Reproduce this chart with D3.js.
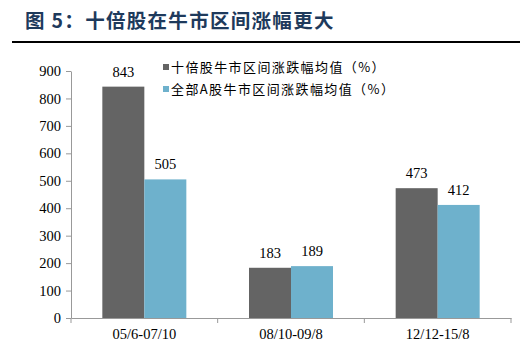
<!DOCTYPE html>
<html><head><meta charset="utf-8">
<script src="https://cdn.jsdelivr.net/npm/d3@7"></script>
<style>body{margin:0;background:#fff}svg{display:block}</style>
</head><body>
<script>
const categories = ["05/6-07/10", "08/10-09/8", "12/12-15/8"];
const seriesNames = ["十倍股牛市区间涨跌幅均值（%）", "全部A股牛市区间涨跌幅均值（%）"];
const tenBagger = [843, 183, 473];
const allA = [505, 189, 412];
const yTicks = [0, 100, 200, 300, 400, 500, 600, 700, 800, 900];
const colors = ["#646464", "#6eb1cc"];

const W = 526, H = 352;
const svg = d3.select("body").append("svg").attr("width", W).attr("height", H);

// title
svg.append("text").attr("x", 25).attr("y", 28)
  .attr("font-family", "'Noto Sans CJK SC', sans-serif").attr("font-weight", "bold")
  .attr("font-size", 19.5).attr("fill", "#1e3a5c").attr("letter-spacing", 1.3)
  .text("图 5：十倍股在牛市区间涨幅更大");
svg.append("line").attr("x1", 12).attr("x2", 520).attr("y1", 42).attr("y2", 42)
  .attr("stroke", "#000").attr("stroke-width", 2);

const x0 = 71, x1 = 511, yTop = 71, y0 = 318;
const x = d3.scaleBand().domain(categories).range([x0, x1]).paddingInner(0).paddingOuter(0);
const y = d3.scaleLinear().domain([0, 900]).range([y0, yTop]);
const inner = d3.scaleBand().domain([0, 1]).range([0, 84]);
const groupOff = (x.bandwidth() - 84) / 2;

const serif = "'Liberation Serif', 'Times New Roman', serif";
const fs = 14.5;

// y axis
const yAxis = d3.axisLeft(y).tickValues(yTicks).tickSize(5).tickSizeOuter(0).tickPadding(5);
const gy = svg.append("g").attr("transform", `translate(${x0},0)`).call(yAxis);
gy.select(".domain").attr("stroke", "#999");
gy.selectAll(".tick line").attr("stroke", "#999");
gy.selectAll(".tick text").attr("font-family", serif).attr("font-size", fs).attr("fill", "#000");

// x axis
const gx = svg.append("g").attr("transform", `translate(0,${y0})`)
  .call(d3.axisBottom(x).tickSize(0).tickPadding(11));
gx.select(".domain").attr("stroke", "#999");
gx.selectAll(".tick text").attr("font-family", serif).attr("font-size", fs).attr("fill", "#000");
// boundary ticks
const bounds = [x0, ...categories.map(c => x(c) + x.bandwidth())];
svg.selectAll(".bt").data(bounds).enter().append("line")
  .attr("x1", d => d).attr("x2", d => d).attr("y1", y0).attr("y2", y0 + 5).attr("stroke", "#999");

const series = [tenBagger, allA];
series.forEach((vals, si) => {
  const g = svg.append("g");
  g.selectAll("rect").data(vals).enter().append("rect")
    .attr("x", (d, i) => x(categories[i]) + groupOff + inner(si))
    .attr("width", inner.bandwidth())
    .attr("y", d => y(d)).attr("height", d => y0 - y(d))
    .attr("fill", colors[si]);
  g.selectAll("text").data(vals).enter().append("text")
    .attr("x", (d, i) => x(categories[i]) + groupOff + inner(si) + inner.bandwidth() / 2)
    .attr("y", d => y(d) - 10)
    .attr("text-anchor", "middle").attr("font-family", serif).attr("font-size", fs).attr("fill", "#000")
    .text(d => d);
});

// legend
seriesNames.forEach((n, i) => {
  const ly = 68 + i * 22;
  svg.append("rect").attr("x", 163).attr("y", ly - 4).attr("width", 6).attr("height", 6).attr("fill", colors[i]);
  svg.append("text").attr("x", 171).attr("y", ly + 4)
    .attr("font-family", "'Noto Sans CJK SC', sans-serif").attr("font-size", 13).attr("fill", "#000")
    .attr("letter-spacing", 1.4)
    .text(n);
});
</script>
</body></html>
